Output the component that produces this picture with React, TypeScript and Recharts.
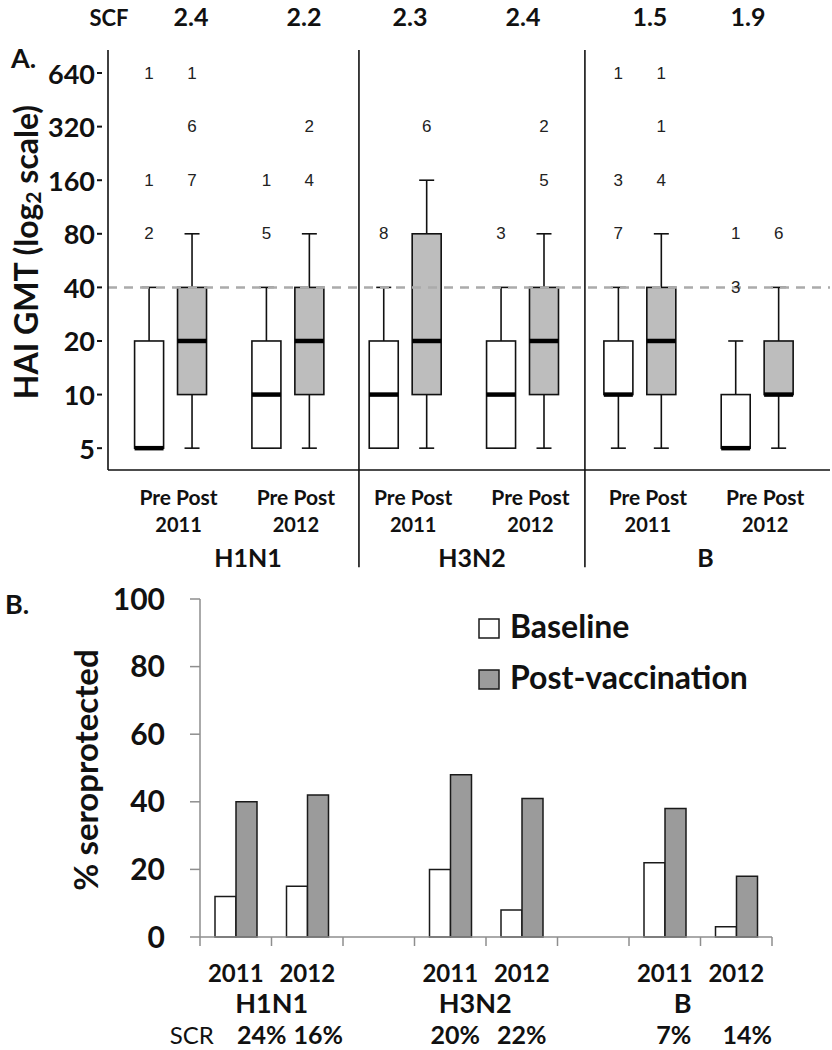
import React from "react";
import {
  ComposedChart,
  BarChart,
  Bar,
  Scatter,
  XAxis,
  YAxis,
  ReferenceLine,
  Label,
} from "recharts";

const FONT = "Lato, 'Open Sans', sans-serif";
const NUM_FONT = "'Liberation Sans', Arial, sans-serif";
const INK = "#111";
const BOX_GREY = "#bdbdbd";
const BAR_GREY = "#9b9b9b";
const AXIS_GREY = "#8e8e8e";

// ---- panel A: HAI titres, one pair of boxes per strain and season
const groups = ["H1N1", "H3N2", "B"];
const seasons = ["2011", "2012"];
const scfValues = ["2.4", "2.2", "2.3", "2.4", "1.5", "1.9"];
const titerTicks = [5, 10, 20, 40, 80, 160, 320, 640];
const protectiveTiter = 40;

// [min, q1, median, q3, max] for H1N1 11, H1N1 12, H3N2 11, H3N2 12, B 11, B 12
const preStats = [
  [5, 5, 5, 20, 40],
  [5, 5, 10, 20, 40],
  [5, 5, 10, 20, 40],
  [5, 5, 10, 20, 40],
  [5, 10, 10, 20, 40],
  [5, 5, 5, 10, 20],
];
const postStats = [
  [5, 10, 20, 40, 80],
  [5, 10, 20, 40, 80],
  [5, 10, 20, 80, 160],
  [5, 10, 20, 40, 80],
  [5, 10, 20, 40, 80],
  [5, 10, 10, 20, 40],
];
// outliers: [titre, number of subjects]
const preOutliers = [
  [[640, 1], [160, 1], [80, 2]],
  [[160, 1], [80, 5]],
  [[80, 8]],
  [[80, 3]],
  [[640, 1], [160, 3], [80, 7]],
  [[80, 1], [40, 3]],
];
const postOutliers = [
  [[640, 1], [320, 6], [160, 7]],
  [[320, 2], [160, 4]],
  [[320, 6]],
  [[320, 2], [160, 5]],
  [[640, 1], [320, 1], [160, 4]],
  [[80, 6]],
];

// ---- panel B: % seroprotected
const barSeasons = ["2011", "2012", "", "2011", "2012", "", "2011", "2012"];
const baselinePct = [12, 15, null, 20, 8, null, 22, 3];
const postPct = [40, 42, null, 48, 41, null, 38, 18];
const scrValues = ["24%", "16%", "", "20%", "22%", "", "7%", "14%"];
const seroTicks = [0, 20, 40, 60, 80, 100];
const seriesNames = ["Baseline", "Post-vaccination"];

// layout of panel A (x in pair units, y in titre units)
const X_DOMAIN: [number, number] = [-0.533, 5.621];
const Y_DOMAIN: [number, number] = [3.77, 862];
const BOX_SHIFT = 0.183;
const BOX_W = 29;
const CAP_W = 15;
const DIVIDERS = [1.606, 3.532];
const DIVIDER_BOTTOM = 1.07;
const SCF_X = [-0.525, 0.174, 1.137, 2.041, 3.004, 4.086, 4.922];
const GROUP_X = [0.66, 2.57, 4.56];

// layout of panel B
const BAND_B = (772 - 200) / 8;
const GROUP_SHIFT_B = [36, 25, 18];
const SCR_SHIFT = [26, 11, 0, 5, 0, 0, 9, 11];

const boxRows = preStats.flatMap((pre, i) => {
  const post = postStats[i];
  const row = (s: number[], x: number, kind: string) => ({
    x,
    kind,
    min: s[0],
    q1: s[1],
    med: s[2],
    q3: s[3],
    max: s[4],
  });
  return [row(pre, i - BOX_SHIFT, "pre"), row(post, i + BOX_SHIFT, "post")];
});

const outlierRows = preOutliers.flatMap((pre, i) => [
  ...pre.map(([titer, n]) => ({ x: i - BOX_SHIFT, titer, n })),
  ...postOutliers[i].map(([titer, n]) => ({ x: i + BOX_SHIFT, titer, n })),
]);

const barRows = barSeasons.map((season, i) => ({
  key: `c${i}`,
  season,
  baseline: baselinePct[i],
  post: postPct[i],
}));

function BoxShape(props: any) {
  const { x, y, width, height, payload } = props;
  return (
    <rect
      x={x}
      y={y}
      width={width}
      height={height}
      fill={payload.kind === "post" ? BOX_GREY : "#fff"}
      stroke={INK}
      strokeWidth={1.6}
    />
  );
}

function WhiskerShape(props: any) {
  const { x, y, width, height } = props;
  const cx = x + width / 2;
  return (
    <g stroke={INK} strokeWidth={1.6}>
      <line x1={cx} y1={y} x2={cx} y2={y + height} />
      <line x1={x} y1={y} x2={x + width} y2={y} />
      <line x1={x} y1={y + height} x2={x + width} y2={y + height} />
    </g>
  );
}

function MedianShape(props: any) {
  const { cx, cy } = props;
  return (
    <line
      x1={cx - BOX_W / 2}
      x2={cx + BOX_W / 2}
      y1={cy}
      y2={cy}
      stroke="#000"
      strokeWidth={4.5}
    />
  );
}

function OutlierShape(props: any) {
  const { cx, cy, payload } = props;
  return (
    <text
      x={cx}
      y={cy}
      textAnchor="middle"
      dominantBaseline="central"
      fontFamily={NUM_FONT}
      fontSize={17}
      fill="#222"
    >
      {payload.n}
    </text>
  );
}

function TiterTick({ x, y, payload }: any) {
  return (
    <g>
      <text
        x={x - 13}
        y={y}
        textAnchor="end"
        dominantBaseline="central"
        fontFamily={FONT}
        fontWeight={700}
        fontSize={27}
        fill={INK}
      >
        {payload.value}
      </text>
      <line x1={x - 11} x2={x - 6} y1={y} y2={y} stroke={INK} strokeWidth={2} />
    </g>
  );
}

function PairTick({ x, y, payload }: any) {
  const i = Math.round(payload.value);
  return (
    <g fontFamily={FONT} fontWeight={700} fill={INK}>
      <text x={x + 8} y={y + 35} fontSize={21} textAnchor="middle">
        Pre Post
      </text>
      <text x={x + 8} y={y + 62} fontSize={20} textAnchor="middle">
        {seasons[i % 2]}
      </text>
    </g>
  );
}

function GroupTick({ x, y, index }: any) {
  return (
    <text
      x={x}
      y={y + 37}
      textAnchor="middle"
      fontFamily={FONT}
      fontWeight={700}
      fontSize={25}
      fill={INK}
    >
      {groups[index]}
    </text>
  );
}

function ScfTick({ x, y, index }: any) {
  const isLabel = index === 0;
  return (
    <text
      x={x}
      y={y - 24}
      textAnchor="middle"
      fontFamily={FONT}
      fontWeight={700}
      fontSize={isLabel ? 22 : 25}
      fill={INK}
    >
      {isLabel ? "SCF" : scfValues[index - 1]}
    </text>
  );
}

function TitleA(props: any) {
  const vb = props.viewBox ?? { x: 8, y: 50, width: 100, height: 420 };
  const cx = vb.x + 17;
  const cy = vb.y + vb.height / 2 - 8;
  return (
    <text
      x={cx}
      y={cy}
      transform={`rotate(-90 ${cx} ${cy})`}
      textAnchor="middle"
      dominantBaseline="central"
      fontFamily={FONT}
      fontWeight={700}
      fontSize={32}
      fill={INK}
    >
      HAI GMT (log
      <tspan fontSize={21} dy={7}>
        2
      </tspan>
      <tspan dy={-7}> scale)</tspan>
    </text>
  );
}

function TitleB(props: any) {
  const vb = props.viewBox ?? { x: 0, y: 39, width: 200, height: 338 };
  const cx = vb.x + 85;
  const cy = vb.y + vb.height / 2 + 2;
  return (
    <text
      x={cx}
      y={cy}
      transform={`rotate(-90 ${cx} ${cy})`}
      textAnchor="middle"
      dominantBaseline="central"
      fontFamily={FONT}
      fontWeight={700}
      fontSize={33}
      fill={INK}
    >
      % seroprotected
    </text>
  );
}

function SeasonTick({ x, y, index }: any) {
  const i = index as number;
  const g = Math.floor(i / 3);
  const startsGroup = i % 3 === 0;
  return (
    <g fontFamily={FONT} fontWeight={700} fill={INK}>
      <line x1={x - BAND_B / 2} x2={x - BAND_B / 2} y1={y} y2={y + 9} stroke={AXIS_GREY} strokeWidth={1.5} />
      {i === barSeasons.length - 1 && (
        <line x1={x + BAND_B / 2} x2={x + BAND_B / 2} y1={y} y2={y + 9} stroke={AXIS_GREY} strokeWidth={1.5} />
      )}
      <text x={x} y={y + 45} fontSize={24} textAnchor="middle">
        {barSeasons[i]}
      </text>
      {startsGroup && (
        <text x={x + GROUP_SHIFT_B[g]} y={y + 76} fontSize={27} textAnchor="middle">
          {groups[g]}
        </text>
      )}
      {i === 0 && (
        <text x={x - 44} y={y + 107} fontSize={24} fontWeight={400} textAnchor="middle">
          SCR
        </text>
      )}
      <text x={x + SCR_SHIFT[i]} y={y + 107} fontSize={25} textAnchor="middle">
        {scrValues[i]}
      </text>
    </g>
  );
}

function PanelA() {
  return (
    <ComposedChart
      width={832}
      height={580}
      data={boxRows}
      margin={{ top: 0, right: 2, bottom: 0, left: 8 }}
    >
      <XAxis
        xAxisId="b"
        dataKey="x"
        type="number"
        domain={X_DOMAIN}
        allowDataOverflow
        ticks={GROUP_X}
        interval={0}
        height={50}
        axisLine={false}
        tickLine={false}
        tickSize={0}
        tickMargin={0}
        tick={<GroupTick />}
      />
      <XAxis
        xAxisId="a"
        dataKey="x"
        type="number"
        domain={X_DOMAIN}
        allowDataOverflow
        ticks={[0, 1, 2, 3, 4, 5]}
        interval={0}
        height={60}
        axisLine={{ stroke: INK, strokeWidth: 1.6 }}
        tickLine={false}
        tickSize={0}
        tickMargin={0}
        tick={<PairTick />}
      />
      <XAxis
        xAxisId="scf"
        orientation="top"
        dataKey="x"
        type="number"
        domain={X_DOMAIN}
        allowDataOverflow
        ticks={SCF_X}
        interval={0}
        height={50}
        axisLine={false}
        tickLine={false}
        tickSize={0}
        tickMargin={0}
        tick={<ScfTick />}
      />
      <XAxis xAxisId="w" dataKey="x" type="number" domain={X_DOMAIN} allowDataOverflow hide />
      <YAxis
        type="number"
        scale="log"
        domain={Y_DOMAIN}
        allowDataOverflow
        ticks={titerTicks}
        interval={0}
        width={100}
        axisLine={{ stroke: INK, strokeWidth: 1.6 }}
        tickLine={false}
        tickSize={0}
        tickMargin={0}
        tick={<TiterTick />}
      >
        <Label content={(p: any) => <TitleA {...p} />} />
      </YAxis>
      <ReferenceLine
        xAxisId="a"
        y={protectiveTiter}
        stroke="#ababab"
        strokeWidth={2.5}
        strokeDasharray="9 7"
      />
      {DIVIDERS.map((d) => (
        <ReferenceLine
          key={d}
          xAxisId="a"
          segment={[
            { x: d, y: Y_DOMAIN[1] },
            { x: d, y: DIVIDER_BOTTOM },
          ]}
          ifOverflow="visible"
          stroke={INK}
          strokeWidth={1.6}
        />
      ))}
      <Bar
        xAxisId="w"
        dataKey={(d: any) => [d.min, d.max]}
        barSize={CAP_W}
        shape={(p: any) => <WhiskerShape {...p} />}
        isAnimationActive={false}
      />
      <Bar
        xAxisId="a"
        dataKey={(d: any) => [d.q1, d.q3]}
        barSize={BOX_W}
        shape={(p: any) => <BoxShape {...p} />}
        isAnimationActive={false}
      />
      <Scatter
        xAxisId="a"
        dataKey="med"
        shape={(p: any) => <MedianShape {...p} />}
        isAnimationActive={false}
      />
      <Scatter
        xAxisId="a"
        data={outlierRows}
        dataKey="titer"
        shape={(p: any) => <OutlierShape {...p} />}
        isAnimationActive={false}
      />
    </ComposedChart>
  );
}

function PanelB() {
  return (
    <BarChart
      width={832}
      height={490}
      data={barRows}
      margin={{ top: 39, right: 60, bottom: 0, left: 0 }}
      barGap={0}
    >
      <XAxis
        dataKey="key"
        height={113}
        interval={0}
        axisLine={{ stroke: AXIS_GREY, strokeWidth: 1.5 }}
        tickLine={false}
        tickSize={0}
        tickMargin={0}
        tick={<SeasonTick />}
      />
      <YAxis
        type="number"
        domain={[0, 100]}
        ticks={seroTicks}
        interval={0}
        width={200}
        axisLine={{ stroke: AXIS_GREY, strokeWidth: 1.5 }}
        tickLine={{ stroke: AXIS_GREY, strokeWidth: 1.5 }}
        tickSize={10}
        tickMargin={25}
        tick={{ fontFamily: FONT, fontWeight: 700, fontSize: 30, fill: INK }}
      >
        <Label content={(p: any) => <TitleB {...p} />} />
      </YAxis>
      <Bar
        dataKey="baseline"
        name={seriesNames[0]}
        fill="#fff"
        stroke="#1a1a1a"
        strokeWidth={1.5}
        barSize={21}
        isAnimationActive={false}
      />
      <Bar
        dataKey="post"
        name={seriesNames[1]}
        fill={BAR_GREY}
        stroke="#1a1a1a"
        strokeWidth={1.5}
        barSize={21}
        isAnimationActive={false}
      />
    </BarChart>
  );
}

function Overlay() {
  const swatches = ["#fff", BAR_GREY];
  return (
    <svg
      width={832}
      height={1050}
      style={{ position: "absolute", left: 0, top: 0, pointerEvents: "none" }}
    >
      <g fontFamily={FONT} fontWeight={700} fill={INK}>
        <text x={11} y={68} fontSize={27}>
          A.
        </text>
        <text x={5} y={614} fontSize={27}>
          B.
        </text>
        {seriesNames.map((name, i) => (
          <g key={name}>
            <rect
              x={479}
              y={619 + i * 51}
              width={20}
              height={19}
              fill={swatches[i]}
              stroke="#1a1a1a"
              strokeWidth={1.5}
            />
            <text x={510} y={638 + i * 51} fontSize={32}>
              {name}
            </text>
          </g>
        ))}
      </g>
    </svg>
  );
}

export default function App() {
  return (
    <div
      style={{
        position: "absolute",
        left: 0,
        top: 0,
        width: 832,
        height: 1050,
        background: "#fff",
        overflow: "hidden",
      }}
    >
      <div style={{ position: "absolute", left: 0, top: 0 }}>
        <PanelA />
      </div>
      <div style={{ position: "absolute", left: 0, top: 560 }}>
        <PanelB />
      </div>
      <Overlay />
    </div>
  );
}
